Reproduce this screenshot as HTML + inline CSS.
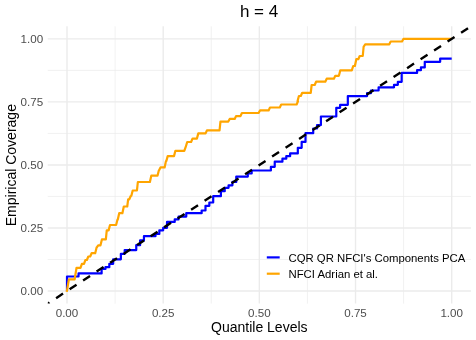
<!DOCTYPE html>
<html><head><meta charset="utf-8"><title>h = 4</title>
<style>
html,body{margin:0;padding:0;background:#fff;}
body{width:476px;height:340px;overflow:hidden;}
svg{display:block;will-change:transform;}
text{font-family:"Liberation Sans",sans-serif;}
.ax{font-size:11.6px;fill:#4d4d4d;}
.lg{font-size:11.35px;fill:#000;}
.at{font-size:14px;fill:#000;}
.tt{font-size:17px;fill:#000;}
</style></head><body>
<svg width="476" height="340" viewBox="0 0 476 340">
<rect width="476" height="340" fill="#fff"/>
<defs><clipPath id="pc"><rect x="47.75" y="26.30" width="423.15" height="277.30"/></clipPath></defs>
<line x1="115.09" y1="26.30" x2="115.09" y2="303.60" stroke="#ebebeb" stroke-width="0.68"/>
<line x1="47.75" y1="259.49" x2="470.90" y2="259.49" stroke="#ebebeb" stroke-width="0.68"/>
<line x1="211.26" y1="26.30" x2="211.26" y2="303.60" stroke="#ebebeb" stroke-width="0.68"/>
<line x1="47.75" y1="196.46" x2="470.90" y2="196.46" stroke="#ebebeb" stroke-width="0.68"/>
<line x1="307.44" y1="26.30" x2="307.44" y2="303.60" stroke="#ebebeb" stroke-width="0.68"/>
<line x1="47.75" y1="133.44" x2="470.90" y2="133.44" stroke="#ebebeb" stroke-width="0.68"/>
<line x1="403.61" y1="26.30" x2="403.61" y2="303.60" stroke="#ebebeb" stroke-width="0.68"/>
<line x1="47.75" y1="70.41" x2="470.90" y2="70.41" stroke="#ebebeb" stroke-width="0.68"/>
<line x1="67.00" y1="26.30" x2="67.00" y2="303.60" stroke="#ebebeb" stroke-width="1.36"/>
<line x1="47.75" y1="291.00" x2="470.90" y2="291.00" stroke="#ebebeb" stroke-width="1.36"/>
<line x1="163.18" y1="26.30" x2="163.18" y2="303.60" stroke="#ebebeb" stroke-width="1.36"/>
<line x1="47.75" y1="227.97" x2="470.90" y2="227.97" stroke="#ebebeb" stroke-width="1.36"/>
<line x1="259.35" y1="26.30" x2="259.35" y2="303.60" stroke="#ebebeb" stroke-width="1.36"/>
<line x1="47.75" y1="164.95" x2="470.90" y2="164.95" stroke="#ebebeb" stroke-width="1.36"/>
<line x1="355.52" y1="26.30" x2="355.52" y2="303.60" stroke="#ebebeb" stroke-width="1.36"/>
<line x1="47.75" y1="101.93" x2="470.90" y2="101.93" stroke="#ebebeb" stroke-width="1.36"/>
<line x1="451.70" y1="26.30" x2="451.70" y2="303.60" stroke="#ebebeb" stroke-width="1.36"/>
<line x1="47.75" y1="38.90" x2="470.90" y2="38.90" stroke="#ebebeb" stroke-width="1.36"/>

<path d="M67.00 291.00 H67.00 V276.50 H78.54 V273.40 H101.62 V268.90 H105.47 V267.20 H109.32 V263.80 H113.16 V259.30 H120.86 V253.80 H124.70 V250.10 H136.25 V245.20 H140.09 V240.40 H143.94 V236.20 H155.48 V234.00 H159.33 V230.30 H163.18 V227.80 H167.02 V221.90 H174.72 V219.40 H178.56 V216.60 H186.26 V213.20 H201.65 V210.50 H205.49 V205.80 H209.34 V202.50 H213.19 V196.20 H220.88 V191.20 H224.73 V187.80 H228.57 V185.30 H232.42 V181.90 H236.27 V176.60 H247.81 V173.50 H251.66 V170.50 H270.89 V166.80 H274.74 V161.70 H282.43 V158.70 H286.28 V156.20 H290.13 V153.40 H297.82 V147.80 H301.67 V141.90 H305.51 V133.20 H313.21 V128.50 H317.06 V125.10 H320.90 V116.50 H336.29 V107.80 H340.14 V104.80 H347.83 V96.10 H367.07 V93.20 H370.91 V90.50 H378.61 V87.30 H394.00 V84.80 H397.84 V81.80 H401.69 V72.90 H417.08 V70.20 H420.92 V67.40 H424.77 V61.80 H440.16 V58.60 H451.70" fill="none" stroke="#0000ff" stroke-width="2.2" stroke-linejoin="round"/>
<path d="M66.75 291.90 L68.9 279.3 H74.65 L76.55 267.80 H80.50 L81.90 263.80 H84.00 L85.40 260.00 H86.90 L88.30 256.50 H90.20 L91.60 253.20 H95.20 L96.60 247.40 H96.80 L98.20 245.30 H100.50 L101.90 239.40 H105.85 L106.75 230.40 H108.60 L110.00 225.00 H116.10 L117.50 219.50 H117.80 L119.20 213.20 H122.40 L123.80 206.50 H127.25 L128.15 199.30 H129.30 L130.70 196.00 H131.30 L132.70 190.50 H136.95 L137.85 182.00 H149.90 L151.30 175.70 H157.50 L158.90 170.30 H159.10 L160.50 167.40 H164.60 L166.00 161.10 H166.30 L167.70 156.10 H174.00 L175.40 150.80 H184.30 L185.70 146.80 H185.80 L187.20 142.00 H191.10 L192.50 138.60 H196.90 L198.30 133.40 H205.60 L207.00 130.30 H219.55 L220.45 121.60 H228.30 L229.70 118.90 H234.70 L236.10 116.10 H240.50 L241.90 113.00 H258.60 L260.00 110.40 H268.60 L270.00 107.50 H279.80 L281.20 104.50 H296.60 L298.00 101.20 H297.50 L298.90 96.00 H300.80 L302.20 92.80 H310.75 L311.65 85.00 H314.70 L316.10 81.70 H325.30 L326.70 78.70 H333.90 L335.30 75.80 H338.90 L340.30 70.30 H351.80 L353.20 66.00 H354.90 L356.30 59.20 H358.30 L359.70 56.00 H362.75 L363.65 46.50 H363.80 L365.20 44.30 H389.30 L390.70 41.50 H402.00 L403.40 38.90 H451.70" fill="none" stroke="#ffa500" stroke-width="2.2" stroke-linejoin="round"/>
<line x1="42.60" y1="306.99" x2="474.00" y2="24.29" stroke="#000" stroke-width="2.4" stroke-dasharray="8.3 7.84" clip-path="url(#pc)"/>
<text x="67.00" y="316.9" text-anchor="middle" class="ax">0.00</text>
<text x="43.2" y="295.15" text-anchor="end" class="ax">0.00</text>
<text x="163.18" y="316.9" text-anchor="middle" class="ax">0.25</text>
<text x="43.2" y="232.12" text-anchor="end" class="ax">0.25</text>
<text x="259.35" y="316.9" text-anchor="middle" class="ax">0.50</text>
<text x="43.2" y="169.10" text-anchor="end" class="ax">0.50</text>
<text x="355.52" y="316.9" text-anchor="middle" class="ax">0.75</text>
<text x="43.2" y="106.08" text-anchor="end" class="ax">0.75</text>
<text x="451.70" y="316.9" text-anchor="middle" class="ax">1.00</text>
<text x="43.2" y="43.05" text-anchor="end" class="ax">1.00</text>

<text x="259.1" y="17.15" text-anchor="middle" class="tt">h = 4</text>
<text x="259.3" y="331.8" text-anchor="middle" class="at">Quantile Levels</text>
<text transform="translate(16.1,165.15) rotate(-90)" text-anchor="middle" class="at">Empirical Coverage</text>
<line x1="266.8" y1="257.4" x2="279.7" y2="257.4" stroke="#0000ff" stroke-width="2.2"/>
<line x1="266.8" y1="273.7" x2="279.7" y2="273.7" stroke="#ffa500" stroke-width="2.2"/>
<text x="288.5" y="261.65" class="lg">CQR QR NFCI's Components PCA</text>
<text x="288.5" y="277.9" class="lg">NFCI Adrian et al.</text>
</svg>
</body></html>
